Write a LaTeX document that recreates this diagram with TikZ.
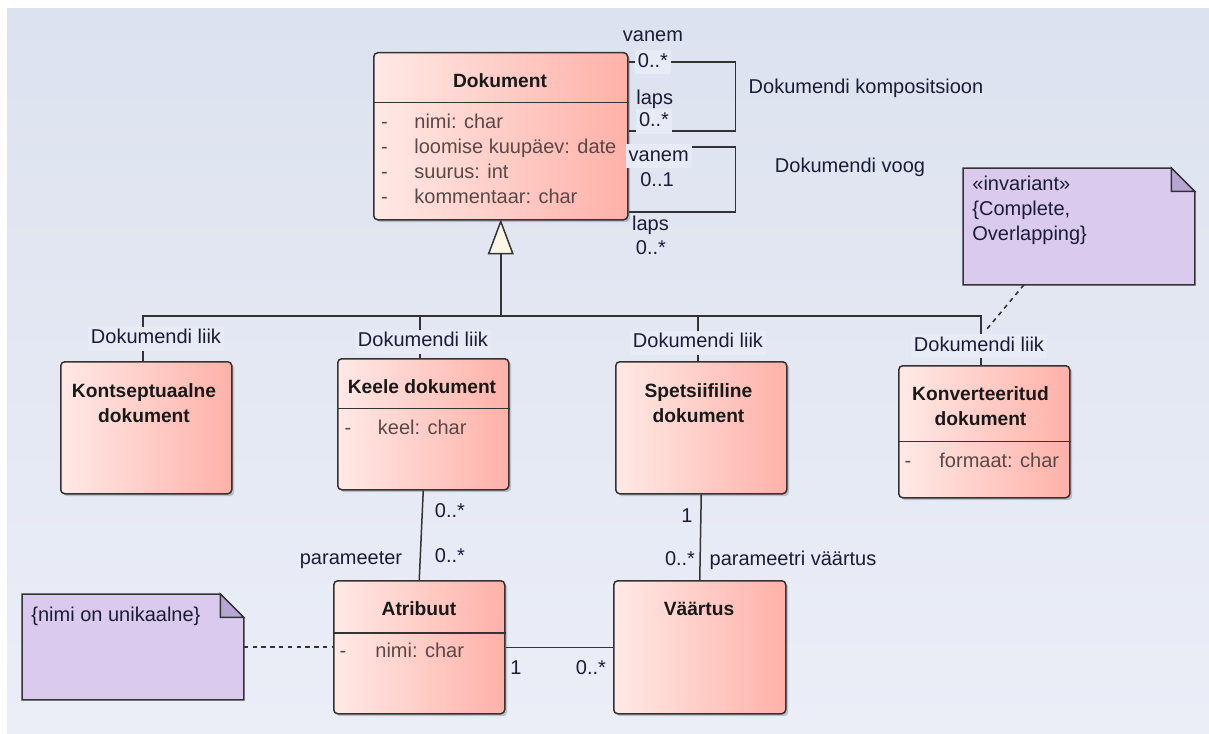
\documentclass[tikz,border=0pt]{standalone}
\usepackage{fontspec}
\setmainfont{Liberation Sans}
\usetikzlibrary{shadows}

\definecolor{bgtop}{HTML}{DCE2EF}
\definecolor{bgbot}{HTML}{EBEEF7}
\definecolor{lblbg}{HTML}{E7EBF5}
\definecolor{boxL}{HTML}{FFE9E6}
\definecolor{boxR}{HTML}{FFB1A8}
\definecolor{edge}{HTML}{333333}
\definecolor{notefill}{HTML}{DACAEE}
\definecolor{notefold}{HTML}{B7A6D3}
\definecolor{lbltext}{HTML}{1C1C36}
\definecolor{attrtext}{HTML}{5A4848}
\definecolor{genfill}{HTML}{FFF6E6}

\newcommand\lblfont{\fontsize{10}{12}\selectfont}
\newcommand\ttlfont{\fontsize{9.6}{12.5}\selectfont\bfseries}

\begin{document}
\begin{tikzpicture}[x=0.5pt,y=-0.5pt,
  classbox/.style={draw=edge, line width=0.75pt, rounded corners=2pt,
    left color=boxL, right color=boxR, inner sep=0pt, anchor=north west,
    minimum width=85.5pt, minimum height=66pt,
    drop shadow={shadow xshift=1.2pt, shadow yshift=-1.2pt, opacity=0.18, fill=black}},
  notebox/.style={inner sep=0pt, anchor=north west, draw=none},
  ttl/.style={font=\ttlfont, text=black!90, align=center, inner sep=0pt},
  attr/.style={font=\lblfont, text=attrtext, inner sep=0pt, text height=7.2pt, text depth=2pt},
  lbl/.style={font=\lblfont, text=lbltext, inner sep=1.5pt, text height=7.2pt, text depth=2pt},
  lblf/.style={lbl, fill=lblbg},
  conn/.style={draw=edge, line width=0.75pt},
  notelink/.style={draw=edge, line width=0.8pt, dash pattern=on 2.2pt off 2.2pt},
  divider/.style={draw=edge, line width=0.75pt}
]
\useasboundingbox (0,0) rectangle (1209,733);
\fill[white] (0,0) rectangle (1209,733);
\shade[top color=bgtop, bottom color=bgbot] (7,9) rectangle (1209,733);

% ---------- classes ----------
\node[classbox, minimum width=127pt, minimum height=83.5pt] (dok) at (373,52) {};
\node[classbox] (kont) at (60,361) {};
\node[classbox, minimum height=65.5pt] (keele) at (337,358) {};
\node[classbox] (spets) at (615,361) {};
\node[classbox] (konv) at (898,365) {};
\node[classbox, minimum height=66.5pt] (atr) at (333,580) {};
\node[classbox, minimum width=86pt, minimum height=66.5pt] (vaa) at (613,580) {};

% compartments
\draw[divider] (dok.west |- 0,102.3) -- (dok.east |- 0,102.3);
\draw[divider] (keele.west |- 0,408.7) -- (keele.east |- 0,408.7);
\draw[divider] (konv.west |- 0,441.7) -- (konv.east |- 0,441.7);
\draw[divider] (atr.west |- 0,633) -- (atr.east |- 0,633);

% titles
\node[ttl] (dokT) at (500,81) {Dokument};
\node[ttl] (kontT) at (144,403) {Kontseptuaalne\\dokument};
\node[ttl] (keeleT) at (422,387) {Keele dokument};
\node[ttl] (spetsT) at (698.5,403) {Spetsiifiline\\dokument};
\node[ttl] (konvT) at (980.5,406.5) {Konverteeritud\\dokument};
\node[ttl] (atrT) at (419,609) {Atribuut};
\node[ttl] (vaaT) at (699,609) {Väärtus};

% attributes
\node[attr] (dokD1) at (384.5,123.5) {-};
\node[attr, anchor=west] (dokA1) at (414,123.5) {nimi: char};
\node[attr] (dokD2) at (384.5,148.3) {-};
\node[attr, anchor=west] (dokA2) at (414,148.3) {loomise kuupäev: date};
\node[attr] (dokD3) at (384.5,173.3) {-};
\node[attr, anchor=west] (dokA3) at (414,173.3) {suurus: int};
\node[attr] (dokD4) at (384.5,198.3) {-};
\node[attr, anchor=west] (dokA4) at (414,198.3) {kommentaar: char};
\node[attr] (keeleD) at (348,429.5) {-};
\node[attr, anchor=west] (keeleA) at (377.5,429.5) {keel: char};
\node[attr] (konvD) at (908,462) {-};
\node[attr, anchor=west] (konvA) at (939,462) {formaat: char};
\node[attr] (atrD) at (343,652) {-};
\node[attr, anchor=west] (atrA) at (375,652) {nimi: char};

% ---------- notes ----------
\node[notebox, minimum width=115.5pt, minimum height=58pt] (noteA) at (963,168) {};
\node[notebox, minimum width=110.5pt, minimum height=52.5pt] (noteB) at (22,594) {};
\foreach \n in {noteA,noteB}{
  \draw[edge, line width=0.75pt, fill=notefill]
    (\n.north west) -- ([xshift=-11.7pt]\n.north east)
    -- ([yshift=-11.7pt]\n.north east) -- (\n.south east) -- (\n.south west) -- cycle;
  \draw[edge, line width=0.75pt, fill=notefold]
    ([xshift=-11.7pt]\n.north east) -- ([xshift=-11.7pt,yshift=-11.7pt]\n.north east)
    -- ([yshift=-11.7pt]\n.north east) -- cycle;
}
\node[lbl, anchor=west, inner sep=0pt] (noteA1) at (972,185) {«invariant»};
\node[lbl, anchor=west, inner sep=0pt] (noteA2) at (972,210) {\{Complete,};
\node[lbl, anchor=west, inner sep=0pt] (noteA3) at (972,235) {Overlapping\}};
\node[lbl, anchor=west, inner sep=0pt] (noteB1) at (31,616) {\{nimi on unikaalne\}};

% ---------- generalization ----------
\coordinate (genTip) at ([yshift=-0.5pt]dok.south);
\coordinate (genBase) at ([yshift=-16.5pt]dok.south);
\coordinate (bar) at (500,316);
\coordinate (dK) at ([xshift=-1.6pt]kont.north);
\coordinate (dL) at ([xshift=-1.6pt]keele.north);
\coordinate (dS) at ([xshift=-1.6pt]spets.north);
\coordinate (dV) at ([xshift=-1.6pt]konv.north);
\draw[conn] (genBase) -- (genBase |- bar);
\draw[conn] (dK) -- (dK |- bar) -- (dV |- bar) -- (dV);
\draw[conn] (dL) -- (dL |- bar);
\draw[conn] (dS) -- (dS |- bar);
\draw[conn, fill=genfill] (genTip) -- ([xshift=-6pt]genBase) -- ([xshift=6pt]genBase) -- cycle;
\node[lblf] (liikK) at (156,338.7) {Dokumendi liik};
\node[lblf] (liikL) at (423,341.7) {Dokumendi liik};
\node[lblf] (liikS) at (698,342.7) {Dokumendi liik};
\node[lblf] (liikV) at (979,346) {Dokumendi liik};

% ---------- self associations ----------
\coordinate (sA1) at ([yshift=-5pt]dok.north east);
\coordinate (sA2) at ([yshift=-39.5pt]dok.north east);
\coordinate (sB1) at ([yshift=-47.5pt]dok.north east);
\coordinate (sB2) at ([yshift=4.2pt]dok.south east);
\draw[conn] (sA1) -- ++(53.5pt,0) |- (sA2);
\draw[conn] (sB1) -- ++(53.5pt,0) |- (sB2);
\node[lbl] (vanemA) at (653,36.7) {vanem};
\node[lblf] (mA1) at (653,62) {0..*};
\node[lbl] (lapsA) at (654.7,99) {laps};
\node[lblf] (mA2) at (654,121.7) {0..*};
\node[lblf] (vanemB) at (658.7,156) {vanem};
\node[lbl] (mB1) at (657,181) {0..1};
\node[lbl] (lapsB) at (650.5,225) {laps};
\node[lbl] (mB2) at (651,249) {0..*};
\node[lbl] (assocA) at (866,88.3) {Dokumendi kompositsioon};
\node[lbl] (assocB) at (850,167.3) {Dokumendi voog};

% ---------- other associations ----------
\draw[conn] (keele.south) -- (atr.north);
\draw[conn] (spets.south) -- (vaa.north);
\draw[conn] (atr.east) -- (vaa.west);
\node[lbl] (m1) at (450,512) {0..*};
\node[lbl] (m2) at (450,557) {0..*};
\node[lbl] (param) at (351,559) {parameeter};
\node[lbl] (m3) at (687,517) {1};
\node[lbl] (m4) at (680,560) {0..*};
\node[lbl] (pv) at (793,560) {parameetri väärtus};
\node[lbl] (m5) at (516,669) {1};
\node[lbl] (m6) at (591,669) {0..*};

% ---------- note links ----------
\coordinate (noteAend) at (984.5,332);
\draw[notelink] ([xshift=-27.5pt]noteA.south) -- (noteAend);
\draw[notelink] (noteB.east |- atr.west) -- (atr.west);
\end{tikzpicture}
\end{document}
